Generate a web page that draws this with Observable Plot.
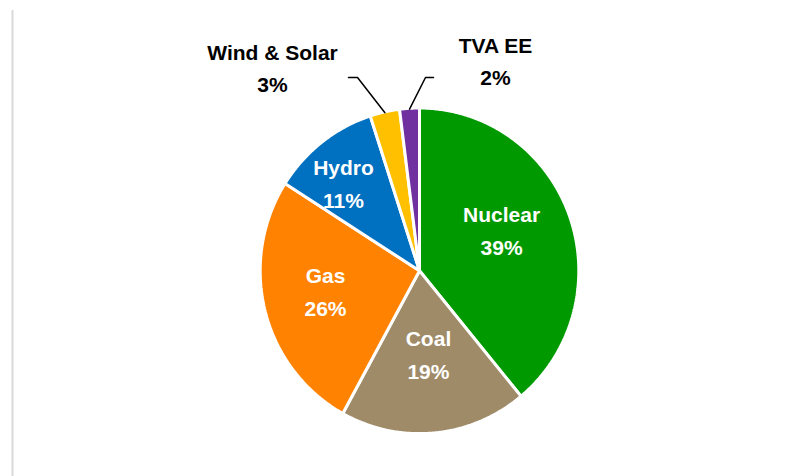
<!DOCTYPE html>
<html>
<head>
<meta charset="utf-8">
<script src="https://cdn.jsdelivr.net/npm/d3@7"></script>
<script src="https://cdn.jsdelivr.net/npm/@observablehq/plot@0.6"></script>
<style>
  html, body { margin: 0; padding: 0; background: #ffffff; }
  #chart { width: 812px; height: 476px; }
</style>
</head>
<body>
<div id="chart"></div>
<script>
// ---- data ----
const categories = ["Nuclear", "Coal", "Gas", "Hydro", "Wind & Solar", "TVA EE"];
const shares = [39, 19, 26, 11, 3, 2];
const colors = ["#009A00", "#9F8B68", "#FF8200", "#0070C0", "#FFC000", "#7030A0"];

// ---- layout (not data) ----
const W = 812, H = 476;
const cx = 419, cy = 270.3, Rx = 159.3, Ry = 162.8, R = 161;
// inside label placement: radius fraction and small angle shift (degrees) from the slice middle
const insideLabelPos = {
  "Nuclear": { f: 0.576, da: -8.0 },
  "Coal":    { f: 0.507, da: -0.9 },
  "Gas":     { f: 0.594, da: 3.7 },
  "Hydro":   { f: 0.731, da: -2.4 }
};
// outside label placement, offsets relative to pie centre
const outsideLabels = {
  "Wind & Solar": { lx: -147, ly: -204.8, ex: -62, ey: -193.3, hx: -71 },
  "TVA EE":       { lx: 76,   ly: -211.8, ex: 6,   ey: -193.3, hx: 14 }
};

const rows = categories.map((name, i) => ({ name, value: shares[i], color: colors[i] }));
const arcs = d3.pie().sort(null).value(d => d.value)(rows);

const onEllipse = (a, k = 1) => [cx + Rx * k * Math.sin(a), cy - Ry * k * Math.cos(a)];
const polar = (a, r) => [cx + r * Math.sin(a), cy - r * Math.cos(a)];
const rad = deg => deg * Math.PI / 180;

// slice outlines
const slicePts = [];
for (const a of arcs) {
  const n = Math.max(4, Math.ceil((a.endAngle - a.startAngle) / (Math.PI / 360)));
  slicePts.push({ name: a.data.name, x: cx, y: cy });
  for (let k = 0; k <= n; k++) {
    const t = a.startAngle + (a.endAngle - a.startAngle) * k / n;
    const [x, y] = onEllipse(t);
    slicePts.push({ name: a.data.name, x, y });
  }
}

// inside labels
const inside = arcs.filter(a => insideLabelPos[a.data.name] != null).map(a => {
  const p = insideLabelPos[a.data.name];
  const mid = (a.startAngle + a.endAngle) / 2 + rad(p.da);
  const [x, y] = polar(mid, R * p.f);
  return { x, y, text: a.data.name + "\n" + a.data.value + "%" };
});

// outside labels + leader lines
const outside = [];
const leaders = [];
for (const a of arcs) {
  const o = outsideLabels[a.data.name];
  if (!o) continue;
  const mid = (a.startAngle + a.endAngle) / 2;
  outside.push({ x: cx + o.lx, y: cy + o.ly, text: a.data.name + "\n" + a.data.value + "%" });
  const [sx, sy] = onEllipse(mid, 0.995);
  leaders.push({ name: a.data.name, x: sx, y: sy });
  leaders.push({ name: a.data.name, x: cx + o.ex, y: cy + o.ey });
  leaders.push({ name: a.data.name, x: cx + o.hx, y: cy + o.ey });
}

const font = "'Liberation Sans', Arial, Helvetica, sans-serif";

const chart = Plot.plot({
  width: W,
  height: H,
  margin: 0,
  x: { domain: [0, W], range: [0, W], axis: null },
  y: { domain: [0, H], range: [0, H], axis: null },
  color: { domain: categories, range: colors },
  style: { fontFamily: font, background: "#ffffff", overflow: "visible" },
  marks: [
    Plot.ruleX([12], { y1: 10, y2: H, stroke: "#d9d9d9", strokeWidth: 2 }),
    Plot.line(slicePts, {
      x: "x", y: "y", z: "name", fill: "name",
      stroke: "#ffffff", strokeWidth: 3, curve: "linear-closed", strokeLinejoin: "miter"
    }),
    Plot.line(leaders, { x: "x", y: "y", z: "name", stroke: "#000000", strokeWidth: 1.5, strokeLinejoin: "miter" }),
    Plot.text(inside, {
      x: "x", y: "y", text: "text", fill: "#ffffff",
      fontSize: 21, fontWeight: "bold", fontFamily: font, lineHeight: 1.57
    }),
    Plot.text(outside, {
      x: "x", y: "y", text: "text", fill: "#000000",
      fontSize: 21, fontWeight: "bold", fontFamily: font, lineHeight: 1.52
    })
  ]
});

document.getElementById("chart").appendChild(chart);
</script>
</body>
</html>
